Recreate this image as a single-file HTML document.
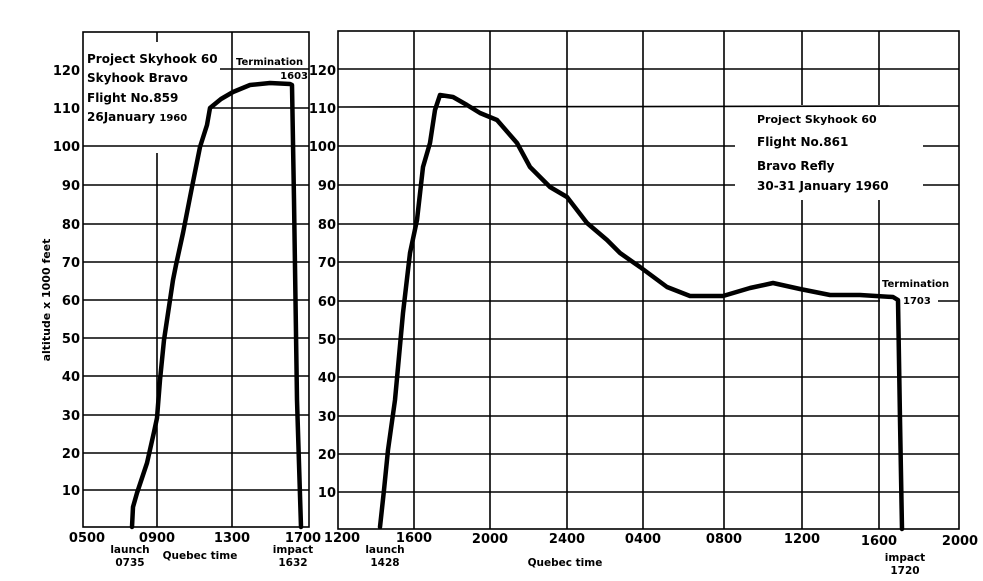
<!DOCTYPE html>
<html><head><meta charset="utf-8"><style>
html,body{margin:0;padding:0;background:#fff;}
svg{display:block}
text{font-family:"DejaVu Sans","Liberation Sans",sans-serif;fill:#000;font-weight:bold}
</style></head><body>
<svg width="983" height="581" viewBox="0 0 983 581">
<g stroke="#000" stroke-width="1.6" fill="none">
<rect x="83" y="32" width="226" height="495"/>
<line x1="157" y1="32" x2="157" y2="42"/>
<line x1="157" y1="153" x2="157" y2="527"/>
<line x1="232" y1="32" x2="232" y2="527"/>
<line x1="220" y1="69" x2="309" y2="69"/>
<line x1="210" y1="108" x2="309" y2="108"/>
<line x1="83" y1="146" x2="309" y2="146"/>
<line x1="83" y1="185" x2="309" y2="185"/>
<line x1="83" y1="224" x2="309" y2="224"/>
<line x1="83" y1="262" x2="309" y2="262"/>
<line x1="83" y1="300" x2="309" y2="300"/>
<line x1="83" y1="338" x2="309" y2="338"/>
<line x1="83" y1="376" x2="309" y2="376"/>
<line x1="83" y1="415" x2="309" y2="415"/>
<line x1="83" y1="453" x2="309" y2="453"/>
<line x1="83" y1="490" x2="309" y2="490"/>
<rect x="338" y="31" width="621" height="498"/>
<line x1="414" y1="31" x2="414" y2="529"/>
<line x1="490" y1="31" x2="490" y2="529"/>
<line x1="567" y1="31" x2="567" y2="529"/>
<line x1="643" y1="31" x2="643" y2="529"/>
<line x1="724" y1="31" x2="724" y2="529"/>
<line x1="802" y1="31" x2="802" y2="105"/>
<line x1="802" y1="200" x2="802" y2="529"/>
<line x1="879" y1="31" x2="879" y2="105"/>
<line x1="879" y1="200" x2="879" y2="529"/>
<line x1="338" y1="69" x2="959" y2="69"/>
<line x1="338" y1="107" x2="959" y2="106"/>
<line x1="338" y1="146" x2="735" y2="146"/>
<line x1="923" y1="146" x2="959" y2="146"/>
<line x1="338" y1="185" x2="735" y2="185"/>
<line x1="923" y1="185" x2="959" y2="185"/>
<line x1="338" y1="224" x2="959" y2="224"/>
<line x1="338" y1="262" x2="959" y2="262"/>
<line x1="338" y1="301" x2="880" y2="301"/>
<line x1="938" y1="301" x2="959" y2="301"/>
<line x1="338" y1="339" x2="959" y2="339"/>
<line x1="338" y1="377" x2="959" y2="377"/>
<line x1="338" y1="416" x2="959" y2="416"/>
<line x1="338" y1="454" x2="959" y2="454"/>
<line x1="338" y1="492" x2="959" y2="492"/>
</g>
<g stroke="#000" stroke-width="4.5" fill="none" stroke-linejoin="round" stroke-linecap="round">
<polyline points="132,527 133,507 137,493 147,463 154,432 157,418 160,380 164,340 170,300 173,280 176,265 183,233 192,187 200,147 207,125 210,108 221,99 233,92 250,85 270,83 290,84 292,85 294,200 297,400 301,527"/>
<polyline points="380,527 384,490 388,450 395,400 403,313 410,253 417,220 423,167 430,143 435,110 440,95 453,97 467,105 480,113 497,120 517,143 530,167 550,187 567,197 587,223 607,240 620,253 640,267 667,287 690,296 723,296 750,288 773,283 800,289 830,295 860,295 893,297 898,300 900,420 902,529"/>
</g>
<g font-size="13" text-anchor="end">
<text x="80" y="75">120</text><text x="80" y="113">110</text><text x="80" y="151">100</text>
<text x="80" y="190">90</text><text x="80" y="229">80</text><text x="80" y="267">70</text>
<text x="80" y="305">60</text><text x="80" y="343">50</text><text x="80" y="381">40</text>
<text x="80" y="420">30</text><text x="80" y="458">20</text><text x="80" y="495">10</text>
<text x="336" y="75">120</text><text x="336" y="113">110</text><text x="336" y="151">100</text>
<text x="336" y="190">90</text><text x="336" y="229">80</text><text x="336" y="267">70</text>
<text x="336" y="306">60</text><text x="336" y="344">50</text><text x="336" y="382">40</text>
<text x="336" y="421">30</text><text x="336" y="459">20</text><text x="336" y="497">10</text>
</g>
<g font-size="13" text-anchor="middle">
<text x="87" y="542">0500</text><text x="157" y="542">0900</text><text x="232" y="542">1300</text><text x="303" y="542">1700</text>
<text x="342" y="542">1200</text><text x="414" y="542">1600</text><text x="490" y="543">2000</text><text x="567" y="543">2400</text>
<text x="643" y="543">0400</text><text x="724" y="543">0800</text><text x="802" y="543">1200</text><text x="879" y="545">1600</text><text x="960" y="545">2000</text>
</g>
<g font-size="10.5" text-anchor="middle">
<text x="130" y="553">launch</text><text x="130" y="566">0735</text>
<text x="200" y="559">Quebec time</text>
<text x="293" y="553">impact</text><text x="293" y="566">1632</text>
<text x="385" y="553">launch</text><text x="385" y="566">1428</text>
<text x="565" y="566">Quebec time</text>
<text x="905" y="561">impact</text><text x="905" y="574">1720</text>
</g>
<g font-size="12">
<text x="87" y="63">Project Skyhook 60</text>
<text x="87" y="82">Skyhook Bravo</text>
<text x="87" y="102">Flight No.859</text>
<text x="87" y="121">26January <tspan font-size="10">1960</tspan></text>
<text x="757" y="123" font-size="11">Project Skyhook  60</text>
<text x="757" y="146">Flight  No.861</text>
<text x="757" y="170">Bravo Refly</text>
<text x="757" y="190">30-31 January 1960</text>
</g>
<g font-size="10">
<text x="236" y="65">Termination</text>
<text x="308" y="79" text-anchor="end">1603</text>
<text x="882" y="287">Termination</text>
<text x="903" y="304">1703</text>
</g>
<text transform="translate(50,300) rotate(-90)" font-size="11" text-anchor="middle">altitude x 1000 feet</text>
</svg>
</body></html>
